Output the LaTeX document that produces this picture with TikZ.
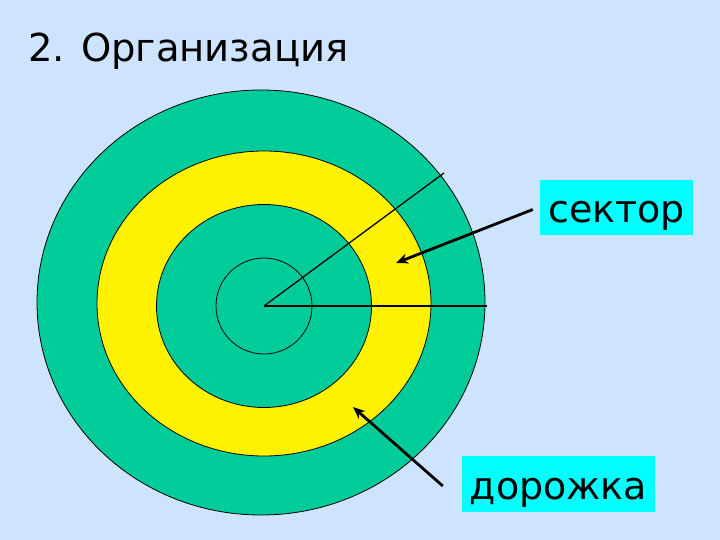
\documentclass[tikz,border=0pt]{standalone}
\usepackage{fontspec}
\setmainfont{DejaVu Sans}
\usetikzlibrary{arrows.meta,positioning}
\definecolor{slidebg}{RGB}{206,228,254}
\definecolor{trackgreen}{RGB}{0,204,153}
\definecolor{labelcyan}{RGB}{0,255,255}

\begin{document}
\begin{tikzpicture}[x=1pt,y=-1pt,
  ring/.style={draw=black,line width=0.8pt},
  tag/.style={fill=labelcyan,inner sep=0pt,text height=30pt,text depth=0pt,font=\fontsize{38}{40}\selectfont},
  pointer/.style={line width=2.8pt,-{Stealth[length=12pt,width=10pt]}}]
\fill[slidebg] (0,0) rectangle (720,540);
\node[anchor=base west,inner sep=0pt,font=\fontsize{38.5}{42}\selectfont] (title) at (28,62) {2. Организация};
% disk
\filldraw[ring,fill=trackgreen] (261,302.5) ellipse [x radius=224,y radius=212.5];
\filldraw[ring,fill=yellow] (264,303.5) ellipse [x radius=167,y radius=152.5];
\filldraw[ring,fill=trackgreen] (264,306) ellipse [x radius=107.5,y radius=101.5];
\draw[ring] (264,306) ellipse [x radius=48,y radius=48];
\coordinate (c) at (264,306);
\coordinate (sectorend) at (444,173);
\coordinate (radiusend) at (486.5,306);
\draw[ring,line width=1.3pt] (c) -- (sectorend);
\draw[ring,line width=1.3pt] (c) -- (radiusend);
% labels
\node[tag,minimum width=153pt,minimum height=55pt] (sector) at (616.5,207.5) {сектор};
\node[tag,minimum width=193pt,minimum height=56pt] (track) at (558.5,484) {дорожка};
\coordinate (sectortip) at (396,263);
\coordinate (tracktip) at (353,407);
\draw[pointer] ([xshift=-7pt,yshift=-2pt]sector.west) -- (sectortip);
\draw[pointer] ([xshift=-19pt,yshift=-2pt]track.west) -- (tracktip);
\end{tikzpicture}
\end{document}
